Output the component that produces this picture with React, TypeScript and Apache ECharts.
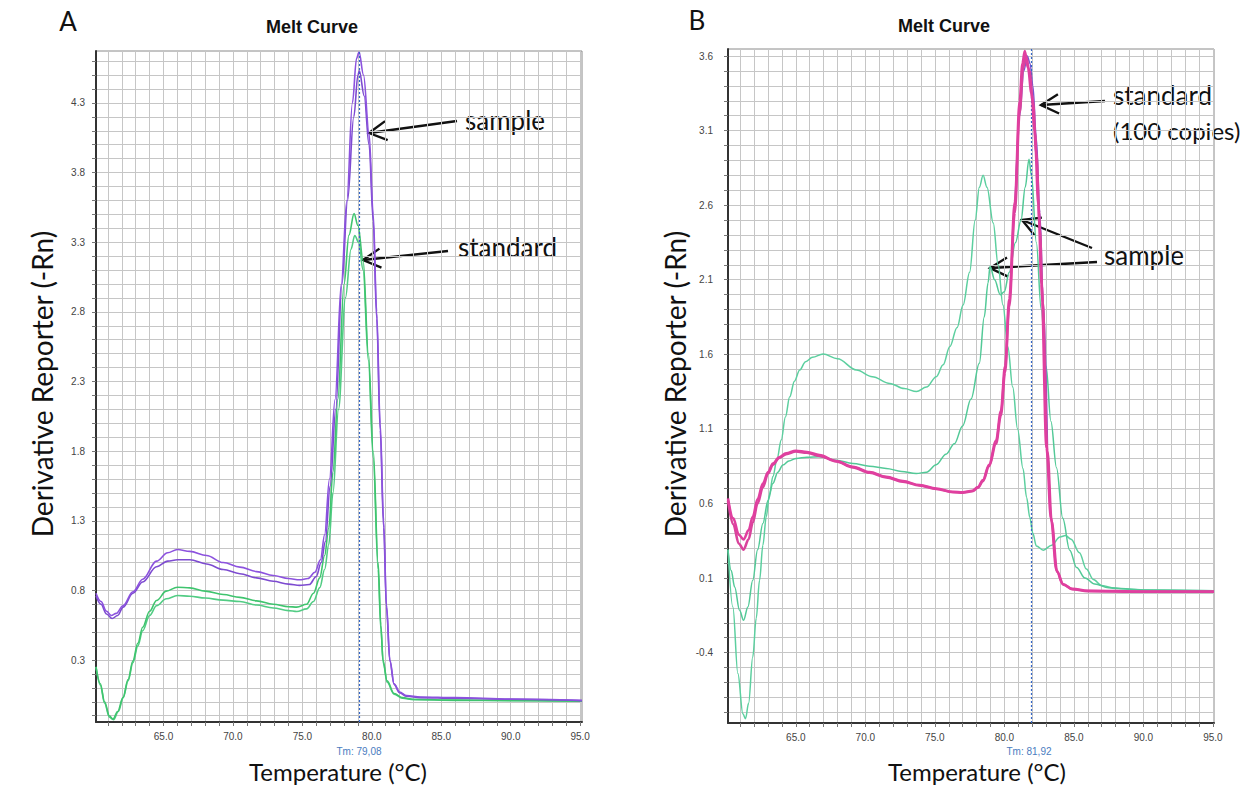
import React, { useEffect, useRef } from "react";
import * as echarts from "echarts";

// ---------- Panel A data ----------
const A_X_LABELS = [65, 70, 75, 80, 85, 90, 95];
const A_Y_LABELS = [0.3, 0.8, 1.3, 1.8, 2.3, 2.8, 3.3, 3.8, 4.3];
const A_TM = 79.08;

const A_SAMPLE_1: [number, number][] = [
  [60.14, 0.78], [60.5, 0.72], [60.9, 0.65], [61.24, 0.62], [61.6, 0.635], [62.08, 0.69], [62.8, 0.79],
  [63.5, 0.88], [64.5, 1.01], [65.3, 1.07], [66.0, 1.094], [66.9, 1.08], [68.1, 1.05], [69.3, 1.0],
  [70.5, 0.967], [71.7, 0.935], [72.9, 0.907], [74.0, 0.885], [74.8, 0.876], [75.4, 0.885], [75.9, 0.93],
  [76.3, 1.02], [76.6, 1.2], [76.95, 1.6], [77.35, 2.17], [77.8, 3.0], [78.2, 3.6], [78.6, 4.3],
  [78.9, 4.62], [79.08, 4.665], [79.4, 4.5], [79.8, 4.08], [80.1, 3.5], [80.35, 2.8], [80.6, 2.0],
  [80.85, 1.3], [81.05, 0.7], [81.3, 0.3], [81.6, 0.13], [82.0, 0.07], [82.5, 0.045], [83.5, 0.035],
  [86, 0.03], [90, 0.02], [95.13, 0.01],
];
const A_SAMPLE_2: [number, number][] = [
  [60.14, 0.76], [60.5, 0.7], [60.9, 0.63], [61.3, 0.598], [61.7, 0.62], [62.1, 0.68], [62.8, 0.78],
  [63.5, 0.86], [64.5, 0.97], [65.3, 1.01], [66.0, 1.02], [66.9, 1.02], [68.1, 0.99], [69.3, 0.95],
  [70.5, 0.92], [71.7, 0.89], [72.9, 0.866], [74.0, 0.845], [74.8, 0.836], [75.5, 0.842], [76.0, 0.9],
  [76.35, 1.0], [76.65, 1.15], [77.0, 1.55], [77.4, 2.1], [77.85, 3.0], [78.25, 3.6], [78.7, 4.2],
  [79.0, 4.5], [79.1, 4.53], [79.45, 4.35], [79.8, 4.0], [80.1, 3.45], [80.35, 2.75], [80.6, 1.95],
  [80.85, 1.25], [81.05, 0.68], [81.3, 0.29], [81.6, 0.125], [82.0, 0.065], [82.5, 0.04], [83.5, 0.03],
  [86, 0.025], [90, 0.018], [95.13, 0.008],
];
const A_STANDARD_1: [number, number][] = [
  [60.14, 0.25], [60.45, 0.13], [60.76, 0.0], [61.1, -0.1], [61.36, -0.125], [61.7, -0.07], [62.08, 0.03],
  [62.45, 0.16], [62.8, 0.295], [63.15, 0.42], [63.5, 0.535], [64.0, 0.65], [64.5, 0.727], [65.2, 0.795],
  [66.0, 0.823], [66.9, 0.818], [68.0, 0.795], [69.3, 0.77], [70.5, 0.75], [71.7, 0.725], [72.9, 0.7],
  [74.0, 0.683], [74.6, 0.68], [75.3, 0.7], [75.8, 0.78], [76.25, 0.89], [76.6, 1.05], [76.9, 1.25],
  [77.2, 1.65], [77.55, 2.17], [78.0, 3.0], [78.35, 3.35], [78.72, 3.505], [79.0, 3.42], [79.37, 3.17],
  [79.75, 2.5], [80.1, 1.8], [80.45, 1.0], [80.65, 0.55], [80.8, 0.3], [81.1, 0.15], [81.6, 0.06],
  [82.2, 0.03], [83, 0.018], [86, 0.012], [90, 0.01], [95.13, 0.005],
];
const A_STANDARD_2: [number, number][] = [
  [60.14, 0.25], [60.45, 0.12], [60.76, -0.01], [61.1, -0.11], [61.4, -0.128], [61.75, -0.07], [62.1, 0.03],
  [62.45, 0.15], [62.8, 0.28], [63.15, 0.4], [63.5, 0.51], [64.0, 0.62], [64.5, 0.69], [65.2, 0.74],
  [66.0, 0.763], [66.9, 0.758], [68.0, 0.745], [69.3, 0.73], [70.5, 0.72], [71.7, 0.695], [72.9, 0.674],
  [74.0, 0.655], [74.6, 0.648], [75.3, 0.667], [75.8, 0.72], [76.25, 0.82], [76.6, 0.95], [76.9, 1.13],
  [77.2, 1.5], [77.6, 2.1], [78.1, 2.9], [78.5, 3.25], [78.77, 3.348], [79.05, 3.3], [79.37, 3.1],
  [79.75, 2.45], [80.1, 1.75], [80.45, 0.95], [80.65, 0.52], [80.82, 0.28], [81.1, 0.14], [81.6, 0.055],
  [82.2, 0.025], [83, 0.015], [86, 0.01], [90, 0.008], [95.13, 0.004],
];

// ---------- Panel B data ----------
const B_X_LABELS = [65, 70, 75, 80, 85, 90, 95];
const B_Y_LABELS = [-0.4, 0.1, 0.6, 1.1, 1.6, 2.1, 2.6, 3.1, 3.6];
const B_TM = 81.92;

const B_STANDARD_1: [number, number][] = [
  [60.12, 0.634], [60.5, 0.5], [60.9, 0.39], [61.24, 0.358], [61.6, 0.42], [61.9, 0.51], [62.25, 0.63],
  [62.63, 0.734], [63.0, 0.81], [63.35, 0.868], [63.8, 0.91], [64.3, 0.936], [65.0, 0.953], [65.8, 0.945],
  [66.7, 0.924], [67.9, 0.885], [69.1, 0.846], [70.3, 0.81], [71.5, 0.779], [72.7, 0.75], [73.9, 0.723],
  [75.1, 0.7], [76.3, 0.678], [77.0, 0.675], [77.7, 0.685], [78.1, 0.71], [78.46, 0.757], [78.9, 0.86],
  [79.4, 1.02], [79.75, 1.22], [80.05, 1.52], [80.35, 1.97], [80.75, 2.62], [81.1, 3.3], [81.3, 3.55],
  [81.47, 3.634], [81.7, 3.52], [81.95, 3.35], [82.18, 3.1], [82.45, 2.6], [82.67, 2.07], [83.03, 0.973],
  [83.35, 0.5], [83.75, 0.152], [84.2, 0.06], [84.9, 0.027], [86, 0.015], [90, 0.01], [95.08, 0.01],
];
const B_STANDARD_2: [number, number][] = [
  [60.12, 0.62], [60.5, 0.46], [60.9, 0.33], [61.24, 0.29], [61.6, 0.36], [61.9, 0.47], [62.25, 0.6],
  [62.63, 0.71], [63.0, 0.8], [63.35, 0.86], [63.8, 0.905], [64.3, 0.93], [65.0, 0.948], [65.8, 0.94],
  [66.7, 0.918], [67.9, 0.882], [69.1, 0.842], [70.3, 0.806], [71.5, 0.775], [72.7, 0.746], [73.9, 0.72],
  [75.1, 0.697], [76.3, 0.675], [77.0, 0.672], [77.7, 0.682], [78.1, 0.705], [78.46, 0.75], [78.9, 0.85],
  [79.4, 1.0], [79.75, 1.19], [80.05, 1.48], [80.35, 1.92], [80.75, 2.55], [81.1, 3.22], [81.35, 3.52],
  [81.55, 3.6], [81.8, 3.5], [82.05, 3.3], [82.3, 2.95], [82.55, 2.45], [82.75, 1.95], [83.1, 0.95],
  [83.4, 0.48], [83.8, 0.14], [84.25, 0.055], [84.9, 0.025], [86, 0.012], [90, 0.008], [95.08, 0.008],
];
const B_STANDARD_3: [number, number][] = [
  [80.75, 2.55], [81.1, 3.2], [81.4, 3.5], [81.65, 3.6], [81.85, 3.55], [82.05, 3.4], [82.3, 3.05],
  [82.55, 2.55], [82.8, 1.95], [83.1, 1.0],
];
const B_SAMPLE_1: [number, number][] = [
  [60.12, 0.29], [60.47, -0.094], [60.83, -0.54], [61.19, -0.81], [61.38, -0.843], [61.6, -0.74],
  [61.9, -0.43], [62.15, -0.17], [62.39, 0.085], [62.63, 0.32], [62.87, 0.51], [63.1, 0.66], [63.35, 0.78],
  [63.65, 0.9], [63.95, 1.025], [64.25, 1.18], [64.56, 1.315], [64.9, 1.42], [65.28, 1.495], [65.7, 1.55],
  [66.2, 1.58], [66.96, 1.602], [68.0, 1.57], [69.36, 1.495], [70.5, 1.45], [71.76, 1.405], [72.8, 1.37],
  [73.68, 1.35], [74.4, 1.38], [75.1, 1.45], [75.6, 1.53], [76.07, 1.65], [76.6, 1.78], [77.03, 1.93],
  [77.5, 2.15], [77.9, 2.5], [78.2, 2.72], [78.47, 2.8], [78.75, 2.72], [79.2, 2.48], [79.55, 2.2],
  [79.9, 1.93], [80.25, 1.65], [80.6, 1.38], [80.95, 1.1], [81.34, 0.835], [81.6, 0.64], [81.83, 0.507],
  [82.05, 0.4], [82.3, 0.315], [82.8, 0.287], [83.4, 0.32], [84.0, 0.375], [84.4, 0.385], [84.8, 0.36],
  [85.4, 0.27], [85.9, 0.16], [86.4, 0.09], [87.0, 0.05], [88, 0.03], [90, 0.02], [95.08, 0.015],
];
const B_SAMPLE_2: [number, number][] = [
  [60.12, 0.29], [60.35, 0.15], [60.6, 0.04], [60.95, -0.116], [61.24, -0.183], [61.55, -0.094],
  [61.9, 0.085], [62.25, 0.29], [62.63, 0.466], [63.0, 0.62], [63.35, 0.734], [63.7, 0.81], [64.07, 0.857],
  [64.5, 0.885], [65.03, 0.902], [65.8, 0.91], [66.7, 0.913], [67.9, 0.89], [69.1, 0.868], [70.3, 0.85],
  [71.5, 0.835], [72.6, 0.815], [73.66, 0.8], [74.4, 0.81], [75.1, 0.86], [75.8, 0.93], [76.4, 1.0],
  [77.0, 1.12], [77.6, 1.3], [78.2, 1.54], [78.55, 1.85], [78.83, 2.08], [78.97, 2.19], [79.3, 2.1],
  [79.7, 2.0], [80.0, 2.02], [80.35, 2.15], [80.8, 2.35], [81.2, 2.5], [81.5, 2.72], [81.77, 2.907],
  [81.95, 2.8], [82.3, 2.35], [82.65, 1.9], [83.0, 1.52], [83.35, 1.15], [83.75, 0.84], [84.2, 0.5],
  [84.7, 0.287], [85.2, 0.17], [85.8, 0.1], [86.5, 0.06], [87.5, 0.035], [90, 0.02], [95.08, 0.015],
];

// ---------- helpers ----------
function steps(min: number, max: number, step: number): number[] {
  const out: number[] = [];
  const k0 = Math.ceil(min / step - 1e-9);
  const k1 = Math.floor(max / step + 1e-9);
  for (let k = k0; k <= k1; k++) out.push(Math.round(k * step * 1000) / 1000);
  return out;
}

const TICK_FONT = '"Liberation Sans", Arial, sans-serif';
const HAND_FONT = 'Lato, "Open Sans", sans-serif';

function xAxisDef(gridIndex: number, min: number, max: number, labels: number[]) {
  return {
    type: "value", gridIndex, min, max,
    axisLine: { show: true, onZero: false, lineStyle: { color: "#333", width: 2 } },
    axisTick: { show: true, customValues: steps(min, max, 1), length: 4, lineStyle: { color: "#777" } },
    axisLabel: {
      show: true, customValues: labels, formatter: (v: number) => v.toFixed(1),
      fontSize: 10, color: "#444", margin: 9, fontFamily: TICK_FONT,
    },
    splitLine: { show: true, lineStyle: { color: "#c6c6c6", width: 1 } },
  };
}
function yAxisDef(gridIndex: number, min: number, max: number, labels: number[], margin: number) {
  return {
    type: "value", gridIndex, min, max,
    axisLine: { show: true, onZero: false, lineStyle: { color: "#333", width: 2 } },
    axisTick: { show: true, customValues: steps(min, max, 0.1), length: 4, lineStyle: { color: "#777" } },
    axisLabel: {
      show: true, customValues: labels, formatter: (v: number) => v.toFixed(1),
      fontSize: 10, color: "#444", margin, fontFamily: TICK_FONT,
    },
    splitLine: { show: true, lineStyle: { color: "#c6c6c6", width: 1 } },
  };
}
function lineSeries(name: string, data: [number, number][], gi: number, color: string, width: number, z = 3) {
  return {
    name, type: "line", xAxisIndex: gi, yAxisIndex: gi, data, showSymbol: false,
    smooth: 0.35, smoothMonotone: "x", z,
    lineStyle: { color, width }, itemStyle: { color }, silent: true,
  };
}
function tmLine(tm: number) {
  return {
    silent: true, symbol: ["none", "none"], label: { show: false },
    lineStyle: { color: "#3366c8", type: [2, 2], width: 1.2 },
    data: [{ xAxis: tm }],
  };
}
function arrow(x1: number, y1: number, x2: number, y2: number) {
  const dx = x2 - x1, dy = y2 - y1;
  const len = Math.hypot(dx, dy);
  const ux = dx / len, uy = dy / len;
  const L = 20, a = 0.5;
  const w1 = [x2 - L * (ux * Math.cos(a) - uy * Math.sin(a)), y2 - L * (uy * Math.cos(a) + ux * Math.sin(a))];
  const w2 = [x2 - L * (ux * Math.cos(a) + uy * Math.sin(a)), y2 - L * (uy * Math.cos(a) - ux * Math.sin(a))];
  return {
    type: "group",
    children: [
      { type: "line", shape: { x1, y1, x2, y2 }, style: { stroke: "#111", lineWidth: 2.4 } },
      { type: "polyline", shape: { points: [w1, [x2, y2], w2] }, style: { stroke: "#111", lineWidth: 2.4, fill: null } },
    ],
  };
}
function txt(text: string, x: number, y: number, font: string, opts: any = {}) {
  return {
    type: "text", x, y, rotation: opts.rotation || 0,
    style: { text, font, fill: opts.fill || "#111", align: opts.align || "center", verticalAlign: "middle" },
  };
}

export default function App() {
  const ref = useRef<HTMLDivElement>(null);
  useEffect(() => {
    if (!ref.current) return;
    const chart = echarts.init(ref.current, null, { renderer: "svg" });
    const A = { xmin: 60.14, xmax: 95.13, ymin: -0.145, ymax: 4.673 };
    const B = { xmin: 60.12, xmax: 95.08, ymin: -0.872, ymax: 3.647 };
    const sampleA1 = lineSeries("A sample 1", A_SAMPLE_1, 0, "#8c52de", 1.6);
    (sampleA1 as any).markLine = tmLine(A_TM);
    const stdB1 = lineSeries("B standard 1", B_STANDARD_1, 1, "#e03f9f", 2.6, 5);
    (stdB1 as any).markLine = tmLine(B_TM);
    chart.setOption({
      animation: false,
      backgroundColor: "#ffffff",
      grid: [
        { left: 96, top: 51, width: 486, height: 671, show: true, borderColor: "#8a8a8a", borderWidth: 1, backgroundColor: "#fff" },
        { left: 728, top: 49, width: 486, height: 674, show: true, borderColor: "#8a8a8a", borderWidth: 1, backgroundColor: "#fff" },
      ],
      xAxis: [xAxisDef(0, A.xmin, A.xmax, A_X_LABELS), xAxisDef(1, B.xmin, B.xmax, B_X_LABELS)],
      yAxis: [yAxisDef(0, A.ymin, A.ymax, A_Y_LABELS, 11), yAxisDef(1, B.ymin, B.ymax, B_Y_LABELS, 15)],
      series: [
        lineSeries("A standard 2", A_STANDARD_2, 0, "#52cc84", 1.6),
        lineSeries("A standard 1", A_STANDARD_1, 0, "#3fc46e", 1.6),
        lineSeries("A sample 2", A_SAMPLE_2, 0, "#7d4bd0", 1.6),
        sampleA1,
        lineSeries("B sample 1", B_SAMPLE_1, 1, "#5ccf9f", 1.5),
        lineSeries("B sample 2", B_SAMPLE_2, 1, "#52c997", 1.5),
        lineSeries("B standard 3", B_STANDARD_3, 1, "#7a55d0", 1.5, 4),
        lineSeries("B standard 2", B_STANDARD_2, 1, "#d9449c", 2.6, 5),
        stdB1,
      ],
      graphic: [
        txt("A", 68, 21, `26px ${HAND_FONT}`),
        txt("B", 697, 20, `26px ${HAND_FONT}`),
        txt("Melt Curve", 312, 27, `bold 18px ${TICK_FONT}`),
        txt("Melt Curve", 944, 26, `bold 18px ${TICK_FONT}`),
        txt("Derivative Reporter (-Rn)", 42, 384, `28px ${HAND_FONT}`, { rotation: Math.PI / 2 }),
        txt("Derivative Reporter (-Rn)", 675, 384, `28px ${HAND_FONT}`, { rotation: Math.PI / 2 }),
        txt("Temperature (°C)", 338, 771, `24px ${HAND_FONT}`),
        txt("Temperature (°C)", 977, 771, `24px ${HAND_FONT}`),
        txt("Tm: 79,08", 359, 751, `10px ${TICK_FONT}`, { fill: "#4a7cc0" }),
        txt("Tm: 81,92", 1029, 751, `10px ${TICK_FONT}`, { fill: "#4a7cc0" }),
        txt("sample", 465, 120, `26px ${HAND_FONT}`, { align: "left" }),
        txt("standard", 458, 247, `26px ${HAND_FONT}`, { align: "left" }),
        txt("standard", 1113, 95, `26px ${HAND_FONT}`, { align: "left" }),
        txt("(100 copies)", 1113, 130, `24px ${HAND_FONT}`, { align: "left" }),
        txt("sample", 1104, 255, `26px ${HAND_FONT}`, { align: "left" }),
        arrow(457, 121, 369, 133),
        arrow(448, 251, 363, 260),
        arrow(1105, 101, 1041, 105),
        arrow(1092, 248, 1022, 220),
        arrow(1097, 262, 990, 268),
      ],
    });
    return () => chart.dispose();
  }, []);
  return (
    <div
      ref={ref}
      style={{ position: "fixed", left: 0, top: 0, width: 1253, height: 785, background: "#fff" }}
    />
  );
}
